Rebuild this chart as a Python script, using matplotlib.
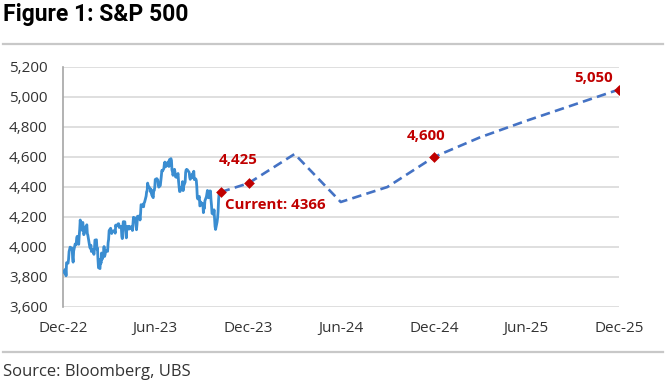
import matplotlib

matplotlib.use("Agg")
import matplotlib.pyplot as plt
import pandas as pd

# S&P 500 daily closes, 30 Dec 2022 - 6 Nov 2023
hist_start = "2022-12-30"
hist_end = "2023-11-06"
market_holidays = ["2023-01-02", "2023-01-16", "2023-02-20", "2023-04-07",
                   "2023-05-29", "2023-06-19", "2023-07-04", "2023-09-04"]
hist_values = [
    3840,
    3824, 3853, 3808, 3895, 3892, 3919, 3970, 3983, 3999, 3991, 3929, 3899, 3973, 4020,
    4017, 4016, 4060, 4071, 4018, 4077,
    4119, 4180, 4136, 4111, 4164, 4118, 4082, 4090, 4137, 4136, 4148, 4090, 4079, 3997,
    3991, 4012, 3970, 3982, 3970,
    3951, 3981, 4046, 4048, 3986, 3992, 3918, 3862, 3856, 3919, 3892, 3960, 3917, 3952,
    4003, 3937, 3949, 3971, 3978, 3971, 4028, 4051, 4109,
    4125, 4101, 4090, 4105, 4109, 4109, 4092, 4146, 4138, 4151, 4155, 4155, 4130, 4134,
    4137, 4072, 4056, 4135, 4169,
    4168, 4120, 4091, 4061, 4136, 4138, 4119, 4138, 4131, 4124, 4136, 4110, 4159, 4198,
    4192, 4193, 4146, 4115, 4151, 4205, 4206, 4180,
    4221, 4282, 4274, 4284, 4268, 4294, 4299, 4339, 4369, 4373, 4426, 4410, 4389, 4366,
    4382, 4348, 4329, 4378, 4377, 4396, 4450,
    4456, 4447, 4412, 4399, 4410, 4439, 4472, 4510, 4505, 4523, 4555, 4566, 4535, 4536,
    4555, 4567, 4567, 4537, 4582, 4589,
    4577, 4513, 4502, 4478, 4518, 4499, 4468, 4469, 4464, 4490, 4438, 4404, 4370, 4370,
    4400, 4388, 4436, 4376, 4406, 4433, 4498, 4515, 4508,
    4516, 4497, 4465, 4451, 4457, 4487, 4462, 4467, 4505, 4450, 4454, 4444, 4402, 4330,
    4320, 4337, 4274, 4275, 4300, 4288,
    4288, 4229, 4264, 4258, 4308, 4336, 4358, 4377, 4350, 4328, 4374, 4373, 4315, 4278,
    4224, 4217, 4248, 4187, 4137, 4117, 4167, 4194,
    4238, 4318, 4358, 4366,
]

# UBS forecast path
fc_dates = ["2023-11-06", "2023-12-31", "2024-03-31", "2024-06-30", "2024-09-30",
            "2024-12-31", "2025-03-31", "2025-06-30", "2025-09-30", "2025-12-31"]
fc_values = [4366, 4425, 4620, 4300, 4400, 4600, 4730, 4840, 4945, 5050]

# highlighted points
mark_dates = ["2023-11-06", "2023-12-31", "2024-12-31", "2025-12-31"]
mark_values = [4366, 4425, 4600, 5050]
mark_labels = ["Current: 4366", "4,425", "4,600", "5,050"]

tick_dates = ["2022-12-31", "2023-06-30", "2023-12-31", "2024-06-30",
              "2024-12-31", "2025-06-30", "2025-12-31"]
tick_labels = ["Dec-22", "Jun-23", "Dec-23", "Jun-24", "Dec-24", "Jun-25", "Dec-25"]
y_ticks = [3600, 3800, 4000, 4200, 4400, 4600, 4800, 5000, 5200]

RED = "#C00000"
GRID = "#D9D9D9"
SEP = "#C8C8C8"

plt.rcParams["font.family"] = ["Open Sans", "DejaVu Sans"]

hist_dates = pd.bdate_range(hist_start, hist_end, freq="C", holidays=market_holidays)
assert len(hist_dates) == len(hist_values), (len(hist_dates), len(hist_values))

W, H = 668, 383
fig = plt.figure(figsize=(W / 100, H / 100), dpi=100)
ax = fig.add_axes([63 / W, 1 - 307 / H, (619 - 63) / W, (307 - 67) / H])

ax.plot(hist_dates, hist_values, color="#3A8DD1", linewidth=2.0, zorder=3)
ax.plot(pd.to_datetime(fc_dates), fc_values, color="#4472C4", linewidth=1.9,
        dashes=(3.6, 2.0), zorder=3)
ax.scatter(pd.to_datetime(mark_dates), mark_values, marker="D", s=30, color=RED,
           zorder=4, linewidths=0)

# label offsets in pixels relative to each marker
offsets = [(4, -13), (-10, 23), (-8, 21), (-25, 11)]
aligns = ["left", "center", "center", "center"]
for d, v, lab, off, ha in zip(mark_dates, mark_values, mark_labels, offsets, aligns):
    ax.annotate(lab, (pd.Timestamp(d), v), xytext=off, textcoords="offset pixels",
                ha=ha, va="center", color=RED, fontsize=10.8, fontweight="bold")

ax.set_xlim(pd.Timestamp("2022-12-30"), pd.Timestamp("2025-12-31"))
ax.set_ylim(3600, 5200)
ax.set_yticks(y_ticks)
ax.set_yticklabels([f"{v:,}" for v in y_ticks])
ax.set_xticks(pd.to_datetime(tick_dates))
ax.set_xticklabels(tick_labels)
ax.tick_params(length=0, labelsize=11, colors="#333333")
ax.tick_params(axis="y", pad=11)
ax.tick_params(axis="x", pad=10)
ax.grid(axis="y", color=GRID, linewidth=1.2)
ax.set_axisbelow(True)
for side in ["top", "right", "bottom"]:
    ax.spines[side].set_visible(False)
ax.spines["left"].set_color("#A6A6A6")
ax.spines["left"].set_linewidth(1.2)

# header / footer
fig.text(3 / W, 1 - 15 / H, "Figure 1: S&P 500", family=["Roboto", "DejaVu Sans"],
         fontweight="bold", fontsize=16.5, va="center", ha="left", color="#000000")
fig.add_artist(plt.Line2D([3 / W, 663 / W], [1 - 44 / H, 1 - 44 / H], color=SEP,
                          linewidth=1.6))
fig.add_artist(plt.Line2D([3 / W, 663 / W], [1 - 352 / H, 1 - 352 / H], color=SEP,
                          linewidth=1.6))
fig.text(3 / W, 1 - 372 / H, "Source: Bloomberg, UBS", fontsize=12, va="center",
         ha="left", color="#333333")

fig.savefig("out.png", dpi=100)
